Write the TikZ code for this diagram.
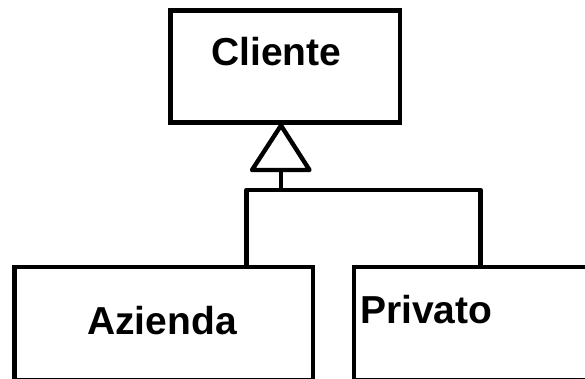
\documentclass[tikz,border=0pt]{standalone}
\usepackage{fontspec}
\setmainfont{Liberation Sans}
\begin{document}
\begin{tikzpicture}[x=1pt,y=-1pt,
  box/.style={draw=black,line width=4.4pt,inner sep=0pt,outer sep=0pt,anchor=north west},
  lbl/.style={font=\fontsize{39}{39}\selectfont\bfseries,inner sep=0pt,anchor=base west},
  link/.style={draw=black,line width=4.4pt,line join=round}]
\useasboundingbox (0,0) rectangle (585,378);
\clip (0,0) rectangle (585,378);
% class boxes
\node[box,minimum width=229.5pt,minimum height=112pt] (cliente) at (170.5,10.5) {};
\node[box,minimum width=298.7pt,minimum height=113pt] (azienda) at (14.3,267) {};
\node[box,minimum width=240pt,minimum height=113pt] (privato) at (354,267) {};
% class names
\node[lbl] (tcliente) at (211,65) {Cliente};
\node[lbl] (tazienda) at (87,334) {Azienda};
\node[lbl] (tprivato) at (360,323.3) {Privato};
% generalization arrow
\coordinate (apex) at (281,125.5);
\coordinate (bl) at (252,170);
\coordinate (br) at (309.5,170);
\coordinate (tbase) at (281,170);
\coordinate (fork) at (281,190);
\coordinate (ajoin) at (246.5,190);
\coordinate (pjoin) at (480.5,190);
\draw[link] (apex) -- (bl) -- (br) -- cycle;
\draw[link] (tbase) -- (fork);
\draw[link] (ajoin |- azienda.north) |- (pjoin) -- (pjoin |- privato.north);
\end{tikzpicture}
\end{document}
